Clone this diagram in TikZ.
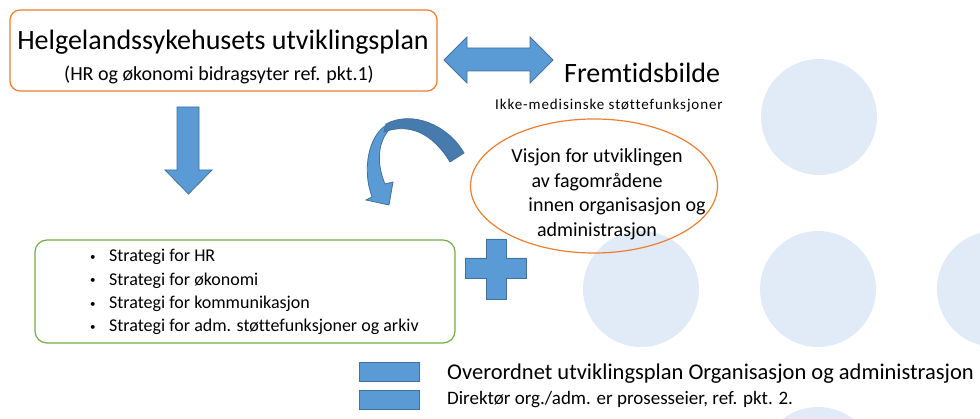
\documentclass[tikz,border=0pt]{standalone}
\usepackage{fontspec}
\setmainfont[Ligatures=NoCommon]{Carlito}
\usetikzlibrary{positioning,shapes.geometric}
\definecolor{blk}{HTML}{5B9BD5}
\definecolor{blkline}{HTML}{41719C}
\definecolor{blkback}{HTML}{477AAD}
\definecolor{orng}{HTML}{ED7D31}
\definecolor{grn}{HTML}{70AD47}
\definecolor{bubblefill}{HTML}{E0EBF7}
\newcommand{\stratbullet}{\makebox[20pt][l]{\hspace{1pt}\raisebox{1.5pt}{\fontsize{11}{11}\selectfont\textbullet}}}

\begin{document}
\begin{tikzpicture}[x=1pt,y=-1pt,
 planbox/.style={draw=orng,line width=1.2pt,rounded corners=10pt,minimum width=427pt,minimum height=81pt,inner sep=0pt},
 stratbox/.style={draw=grn,line width=1.2pt,rounded corners=12pt,minimum width=420pt,minimum height=103pt,inner sep=0pt},
 visbox/.style={draw=orng,line width=1.2pt,ellipse,minimum width=247pt,minimum height=134pt,inner sep=0pt},
 blockarr/.style={fill=blk,draw=blkline,line width=0.8pt},
 legrect/.style={fill=blk,draw=blkline,line width=0.8pt,minimum width=60pt,minimum height=19pt,inner sep=0pt},
 bubble/.style={circle,fill=bubblefill,minimum size=116pt,inner sep=0pt},
 txt/.style={inner sep=0pt,anchor=base west}]
\useasboundingbox (0,0) rectangle (980,419);
\begin{scope}
\clip (0,0) rectangle (980,419);
\foreach \cx/\cy/\nm in {819/117/b1,641/289/b2,818/289/b3,995/289/b4,818/465/b5}
  \node[bubble] (\nm) at (\cx,\cy) {};
\end{scope}
\node[planbox] (plan) at (223.5,50.5) {};
\node[txt,anchor=base,font=\fontsize{28}{34}\selectfont] (plantitle) at (223,50) {Helgelandssykehusets utviklingsplan};
\node[txt,anchor=base,font=\fontsize{20}{24}\selectfont] (plansub) at (219,81) {(HR og økonomi bidragsyter ref. pkt.1)};
\draw[blockarr] (444,60)--(467,37)--(467,48)--(530,48)--(530,37)--(553,60)--(530,83)--(530,71)--(467,71)--(467,83)--cycle;
\node[txt,font=\fontsize{28}{34}\selectfont] (fremtid) at (564,83) {Fremtidsbilde};
\node[txt,font=\fontsize{15}{18}\selectfont\addfontfeatures{LetterSpace=6,Ligatures=NoCommon}] (ikkemed) at (495,110) {Ikke-medisinske støttefunksjoner};
\draw[blockarr] (177,107)--(199,107)--(199,170)--(212,170)--(188.5,194)--(165,170)--(177,170)--cycle;
\draw[blockarr] (388,124) .. controls (368,135) and (362,170) .. (372,197) -- (366,200) -- (389,205) -- (393,182) -- (385,184) .. controls (377,165) and (377,145) .. (388,131) -- cycle;
\draw[blockarr,fill=blkback] (450,162) .. controls (432,132) and (408,123) .. (384,132) -- (386,124) .. controls (412,110) and (448,125) .. (464,153) -- cycle;
\node[visbox] (visjon) at (594,186) {};
\node[txt,anchor=base,font=\fontsize{20}{24.5}\selectfont] (visjontxt) at (597,163) {\begin{tabular}[t]{@{}c@{}}Visjon for utviklingen\\av fagområdene\\\hspace*{40pt}innen organisasjon og\\administrasjon\end{tabular}};
\node[stratbox] (strat) at (245,291.5) {};
\node[txt,font=\fontsize{18}{23.3}\selectfont] (strattxt) at (89,262) {\begin{tabular}[t]{@{}l@{}}
 \stratbullet Strategi for HR\\
 \stratbullet Strategi for økonomi\\
 \stratbullet Strategi for kommunikasjon\\
 \stratbullet Strategi for adm. støttefunksjoner og arkiv\end{tabular}};
\draw[blockarr] (486,239)--(506,239)--(506,258)--(526,258)--(526,278)--(506,278)--(506,299)--(486,299)--(486,278)--(465,278)--(465,258)--(486,258)--cycle;
\node[legrect] (leg1) at (389.5,371.5) {};
\node[legrect] (leg2) at (389.5,400) {};
\node[txt,font=\fontsize{22.5}{27}\selectfont] (legtxt1) at (447,380) {Overordnet utviklingsplan Organisasjon og administrasjon};
\node[txt,font=\fontsize{19}{23}\selectfont] (legtxt2) at (447,405) {Direktør org./adm. er prosesseier, ref. pkt. 2.};
\end{tikzpicture}
\end{document}
